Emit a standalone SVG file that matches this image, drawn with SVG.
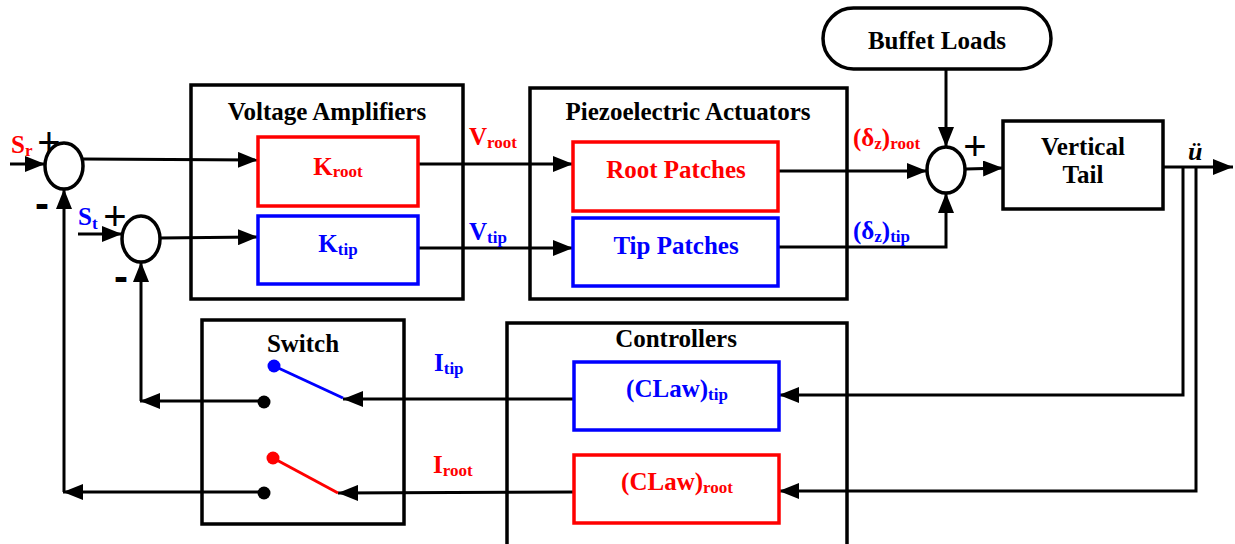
<svg xmlns="http://www.w3.org/2000/svg" width="1235" height="544" viewBox="0 0 1235 544">
  <style>
    .blk { fill: #fff; stroke: #000; stroke-width: 3.5; }
    .red { fill: #fff; stroke: #ff0000; stroke-width: 3.5; }
    .blu { fill: #fff; stroke: #0000ff; stroke-width: 3.5; }
    .sum { fill: #fff; stroke: #000; stroke-width: 3.5; }
    .wire { fill: none; stroke: #000; stroke-width: 3; }
    .arr { marker-end: url(#ah); }
    text { font-family: "Liberation Serif", "Times New Roman", serif; font-weight: bold; }
    .t { font-size: 25px; fill: #000; }
    .tr { font-size: 25px; fill: #ff0000; }
    .tb { font-size: 25px; fill: #0000ff; }
    .sub { font-size: 17px; }
    .sign { font-family: "Liberation Sans", Arial, sans-serif; font-weight: normal; font-size: 40px; fill: #000; }
    .minus { font-family: "Liberation Sans", Arial, sans-serif; font-weight: bold; font-size: 42px; fill: #000; }
  </style>
  <defs>
    <marker id="ah" markerUnits="userSpaceOnUse" markerWidth="20" markerHeight="16" refX="20" refY="8" orient="auto">
      <path d="M0,0 L20,8 L0,16 z" fill="#000"/>
    </marker>
  </defs>

  <!-- outer grouping boxes -->
  <g id="voltage-amplifiers">
    <rect class="blk" x="191" y="85" width="272" height="214"/>
    <text class="t" x="327" y="120" text-anchor="middle">Voltage Amplifiers</text>
  </g>
  <g id="piezo-actuators">
    <rect class="blk" x="530" y="88" width="317" height="211"/>
    <text class="t" x="688" y="120" text-anchor="middle">Piezoelectric Actuators</text>
  </g>
  <g id="controllers">
    <rect class="blk" x="507" y="323" width="340" height="240"/>
    <text class="t" x="676" y="347" text-anchor="middle">Controllers</text>
  </g>
  <g id="switch">
    <rect class="blk" x="202" y="320" width="202" height="204"/>
    <text class="t" x="303" y="352" text-anchor="middle">Switch</text>
  </g>

  <!-- connectors -->
  <g id="connectors">
    <!-- reference inputs -->
    <path class="wire arr" d="M10,164 L45,164"/>
    <path class="wire arr" d="M78,234 L122,234"/>
    <!-- summers to gains -->
    <path class="wire arr" d="M83,159 L258,160"/>
    <path class="wire arr" d="M160,238 L258,237"/>
    <!-- gains to patches -->
    <path class="wire arr" d="M418,164 L573,164"/>
    <path class="wire arr" d="M418,248 L573,248"/>
    <!-- patches to load summer -->
    <path class="wire arr" d="M778,171 L927,171"/>
    <path class="wire arr" d="M778,247 L946,247 L946,193"/>
    <!-- buffet loads -->
    <path class="wire arr" d="M946,69 L946,147"/>
    <!-- summer to tail -->
    <path class="wire arr" d="M966,169 L1003,168"/>
    <!-- tail output -->
    <path class="wire arr" d="M1163,167 L1233,167"/>
    <!-- sensor feedback to controllers -->
    <path class="wire arr" d="M1183,167 L1183,395 L779,395"/>
    <path class="wire arr" d="M1196,167 L1196,491 L779,491"/>
    <!-- controllers to switch -->
    <path class="wire arr" d="M574,399 L343,399"/>
    <path class="wire arr" d="M574,492 L338,493"/>
    <!-- switch outputs back to summers -->
    <path class="wire arr" d="M264,401 L140,401"/>
    <path class="wire arr" d="M141,401 L141,262"/>
    <path class="wire arr" d="M264,492 L63,492"/>
    <path class="wire arr" d="M64,492 L64,189"/>
  </g>

  <!-- summing junctions -->
  <g id="sum-root">
    <ellipse class="sum" cx="64" cy="166" rx="19" ry="23"/>
    <text class="sign" x="49" y="156" text-anchor="middle">+</text>
    <text class="minus" x="42" y="218" text-anchor="middle">-</text>
    <text class="tr" x="11" y="153">S<tspan class="sub" dy="3">r</tspan></text>
  </g>
  <g id="sum-tip">
    <ellipse class="sum" cx="141" cy="239" rx="19" ry="23"/>
    <text class="sign" x="115" y="230" text-anchor="middle">+</text>
    <text class="minus" x="121" y="291" text-anchor="middle">-</text>
    <text class="tb" x="78" y="225">S<tspan class="sub" dy="4">t</tspan></text>
  </g>
  <g id="sum-load">
    <ellipse class="sum" cx="946" cy="170" rx="19" ry="23"/>
    <text class="sign" x="975" y="160" text-anchor="middle">+</text>
  </g>

  <!-- gain blocks -->
  <g id="k-root">
    <rect class="red" x="258" y="137" width="160" height="69"/>
    <text class="tr" x="338" y="175" text-anchor="middle">K<tspan class="sub" dy="2">root</tspan></text>
  </g>
  <g id="k-tip">
    <rect class="blu" x="258" y="216" width="160" height="68"/>
    <text class="tb" x="338" y="252" text-anchor="middle">K<tspan class="sub" dy="3">tip</tspan></text>
  </g>

  <!-- actuator patches -->
  <g id="root-patches">
    <rect class="red" x="573" y="142" width="205" height="69"/>
    <text class="tr" x="676" y="178" text-anchor="middle">Root Patches</text>
  </g>
  <g id="tip-patches">
    <rect class="blu" x="573" y="218" width="205" height="68"/>
    <text class="tb" x="676" y="254" text-anchor="middle">Tip Patches</text>
  </g>

  <!-- controllers -->
  <g id="claw-tip">
    <rect class="blu" x="574" y="362" width="205" height="68"/>
    <text class="tb" x="677" y="397" text-anchor="middle">(CLaw)<tspan class="sub" dy="3">tip</tspan></text>
  </g>
  <g id="claw-root">
    <rect class="red" x="574" y="455" width="205" height="68"/>
    <text class="tr" x="677" y="490" text-anchor="middle">(CLaw)<tspan class="sub" dy="3">root</tspan></text>
  </g>

  <!-- buffet loads -->
  <g id="buffet-loads">
    <rect class="blk" x="823" y="8" width="228" height="61" rx="30.5" ry="30.5"/>
    <text class="t" x="937" y="49" text-anchor="middle">Buffet Loads</text>
  </g>

  <!-- plant -->
  <g id="vertical-tail">
    <rect class="blk" x="1003" y="121" width="160" height="88"/>
    <text class="t" x="1083" y="155" text-anchor="middle">Vertical</text>
    <text class="t" x="1083" y="183" text-anchor="middle">Tail</text>
  </g>

  <!-- switch contacts -->
  <g id="switch-contacts">
    <line x1="274" y1="366" x2="343" y2="398" stroke="#0000ff" stroke-width="3"/>
    <circle cx="274" cy="366" r="6.5" fill="#0000ff"/>
    <circle cx="264" cy="402" r="6.5" fill="#000"/>
    <line x1="273" y1="458" x2="338" y2="493" stroke="#ff0000" stroke-width="3"/>
    <circle cx="273" cy="458" r="6.5" fill="#ff0000"/>
    <circle cx="264" cy="493" r="6.5" fill="#000"/>
  </g>

  <!-- signal labels -->
  <g id="labels">
    <text class="tr" x="469" y="145">V<tspan class="sub" dy="3">root</tspan></text>
    <text class="tb" x="469" y="240">V<tspan class="sub" dy="3">tip</tspan></text>
    <text class="tr" x="853" y="146">(δ<tspan class="sub" dy="3">z</tspan><tspan dy="-3">)</tspan><tspan class="sub" dy="3">root</tspan></text>
    <text class="tb" x="853" y="239">(δ<tspan class="sub" dy="3">z</tspan><tspan dy="-3">)</tspan><tspan class="sub" dy="3">tip</tspan></text>
    <text class="tb" x="434" y="371">I<tspan class="sub" dy="3">tip</tspan></text>
    <text class="tr" x="433" y="473">I<tspan class="sub" dy="3">root</tspan></text>
    <text x="1188" y="160" font-size="26" font-weight="normal" font-style="italic" fill="#000">ü</text>
  </g>
</svg>
